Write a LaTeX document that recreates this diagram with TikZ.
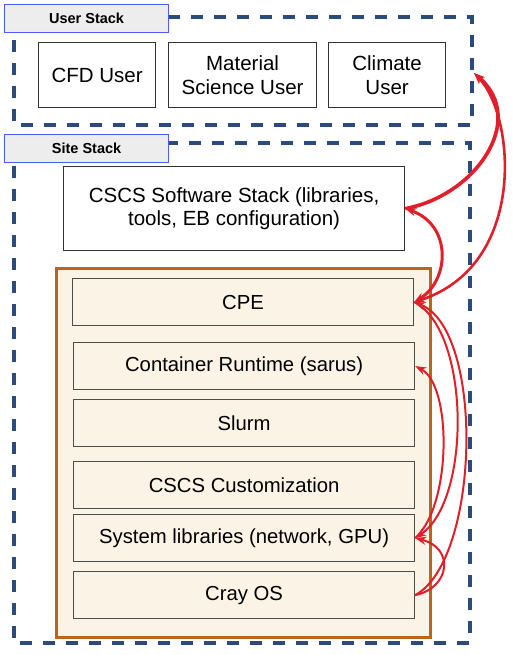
\documentclass[tikz,border=0pt]{standalone}
\usepackage{fontspec}
\setmainfont{Liberation Sans}
\usetikzlibrary{arrows.meta}

\definecolor{navy}{HTML}{2B4A80}
\definecolor{labelblue}{HTML}{4A5CFF}
\definecolor{rust}{HTML}{B8651E}
\definecolor{cream}{HTML}{FAF3E6}
\definecolor{arrowred}{HTML}{E01F2A}

\begin{document}
\begin{tikzpicture}[x=1pt, y=-1pt, >={Stealth[length=11pt, width=8pt]},
    stack/.style={draw=navy, line width=3.2pt, dash pattern=on 12pt off 11pt},
    tag/.style={draw=labelblue, line width=1.2pt, fill=black!7, anchor=north west,
        minimum width=164pt, minimum height=28pt, inner sep=0pt,
        font=\fontsize{14.5}{16}\selectfont\bfseries},
    user/.style={draw=black!80, line width=1.2pt, anchor=north west, align=center,
        minimum height=65pt, inner sep=0pt, font=\fontsize{20.5}{23.5}\selectfont},
    layer/.style={draw=black!70, line width=1.2pt, fill=cream, anchor=north west,
        minimum width=341pt, minimum height=47pt, inner sep=0pt,
        font=\fontsize{20.3}{23}\selectfont},
    dep/.style={draw=arrowred, line width=2pt}]

\useasboundingbox (0,0) rectangle (512,655);

% user stack
\draw[stack] (14,17) rectangle (472,125);
\node[tag] (usertag) at (4,4) {User Stack};
\node[user, minimum width=117pt] (cfd) at (38,42) {CFD User};
\node[user, minimum width=148pt] (material) at (168,42) {Material\\Science User};
\node[user, minimum width=117pt] (climate) at (328,42) {Climate\\User};
\coordinate (userstack) at (474,73);

% site stack
\draw[stack] (14,143) rectangle (470,643);
\node[tag] (sitetag) at (4,134) {Site Stack};
\node[user, minimum width=341pt, minimum height=84pt] (software) at (63,166)
    {CSCS Software Stack (libraries,\\tools, EB configuration)};

\draw[draw=rust, line width=3pt, fill=cream] (56,268) rectangle (430,637);
\node[layer] (cpe) at (72,278) {CPE};
\node[layer] (container) at (73,342) {Container Runtime (sarus)};
\node[layer] (slurm) at (73,399) {Slurm};
\node[layer] (custom) at (73,461) {CSCS Customization};
\node[layer] (syslib) at (73,514) {System libraries (network, GPU)};
\node[layer] (crayos) at (73,571) {Cray OS};

% dependencies
\draw[dep, ->, line width=3.6pt] (software.east) .. controls (475,196) and (528,120) .. (userstack);
\draw[dep, <->, line width=3pt] (cpe.east) .. controls (450,280) and (452,225) .. (software.east);
\draw[dep, <->, line width=2.6pt] (cpe.east) .. controls (528,265) and (515,115) .. (userstack);
\draw[dep, ->] (syslib.east) .. controls (452,505) and (452,385) .. (container.east);
\draw[dep, ->] (cpe.east) .. controls (470,330) and (472,500) .. (syslib.east);
\draw[dep, ->] (crayos.east) .. controls (480,560) and (485,330) .. (cpe.east);
\draw[dep, <-] (syslib.east) .. controls (455,548) and (450,588) .. (crayos.east);

\end{tikzpicture}
\end{document}
